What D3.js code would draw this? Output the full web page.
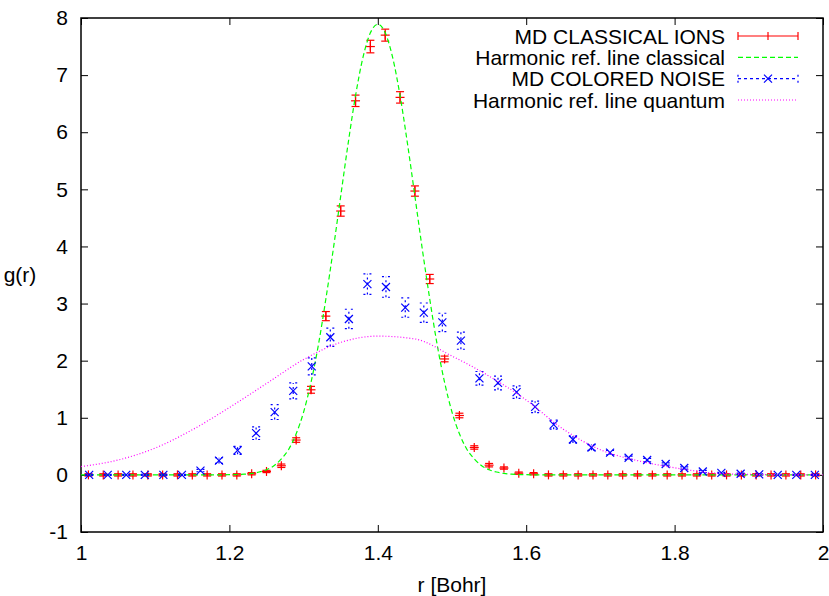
<!DOCTYPE html>
<html lang="en">
<head>
<meta charset="utf-8">
<title>g(r) classical vs colored noise</title>
<script src="https://cdn.jsdelivr.net/npm/d3@7"></script>
<style>
  body { margin: 0; background: #fff; }
  text { font-family: "Liberation Sans", Arial, Helvetica, sans-serif; }
</style>
</head>
<body>
<script>
// ---- data ----
// MD classical ions (red, with error bars)
var classicalR = [1.01,1.03,1.05,1.07,1.09,1.11,1.13,1.15,1.17,1.19,1.21,1.23,1.25,1.27,1.29,1.31,1.33,1.35,1.37,1.39,
  1.41,1.43,1.45,1.47,1.49,1.51,1.53,1.55,1.57,1.59,1.61,1.63,1.65,1.67,1.69,1.71,1.73,1.75,1.77,1.79,
  1.81,1.83,1.85,1.87,1.89,1.91,1.93,1.95,1.97,1.99]
var classicalG = [0,0,0,0,0,0,0,0,0,0,0,0.02,0.06,0.16,0.61,1.49,2.78,4.62,6.55,7.50,
  7.70,6.61,4.97,3.43,2.03,1.04,0.48,0.17,0.12,0.03,0.02,0,0,0,0,0,0,0,0,0,
  0,0,0,0,0,0,0,0,0,0]
var classicalErr = [0.02,0.02,0.02,0.02,0.02,0.02,0.02,0.02,0.02,0.02,0.02,0.02,0.02,0.03,0.04,0.06,0.08,0.09,0.10,0.11,
  0.105,0.10,0.09,0.08,0.05,0.04,0.03,0.03,0.02,0.02,0.02,0.02,0.02,0.02,0.02,0.02,0.02,0.02,0.02,0.02,
  0.02,0.02,0.02,0.02,0.02,0.02,0.02,0.02,0.02,0.02]

// MD colored noise (blue, with error bars)
var noiseR = [1.011,1.036,1.061,1.086,1.111,1.136,1.161,1.186,1.211,1.236,1.261,1.286,1.311,1.336,1.361,1.386,1.411,1.437,1.462,1.487,
  1.512,1.537,1.562,1.587,1.612,1.637,1.663,1.688,1.713,1.738,1.763,1.788,1.813,1.838,1.863,1.889,1.914,1.939,1.964,1.989]
var noiseG = [0,0,0,0,0,0,0.075,0.25,0.43,0.73,1.10,1.47,1.90,2.41,2.73,3.34,3.29,2.93,2.84,2.67,
  2.35,1.69,1.61,1.45,1.19,0.88,0.62,0.48,0.39,0.30,0.26,0.19,0.12,0.06,0.035,0.02,0.01,0,0,0]
var noiseErr = [0.01,0.01,0.01,0.01,0.01,0.01,0.02,0.05,0.07,0.11,0.13,0.14,0.15,0.16,0.17,0.18,0.18,0.17,0.17,0.16,
  0.15,0.12,0.12,0.11,0.10,0.08,0.06,0.05,0.04,0.03,0.03,0.02,0.02,0.02,0.01,0.01,0.01,0.01,0.01,0.01]

// harmonic reference, classical (green dashed)
var refClassR = [1.00,1.10,1.15,1.18,1.20,1.22,1.23,1.24,1.25,1.26,1.27,1.28,1.29,1.30,1.31,1.32,1.33,1.34,1.35,1.36,1.37,1.38,1.39,1.40,
  1.41,1.42,1.43,1.44,1.45,1.46,1.47,1.48,1.49,1.50,1.51,1.52,1.53,1.54,1.55,1.56,1.57,1.58,1.60,1.62,1.65,1.70,1.80,2.00]
var refClassG = [0,0,0,0.001,0.003,0.012,0.025,0.05,0.09,0.16,0.28,0.45,0.72,1.10,1.62,2.28,3.08,3.95,4.88,5.80,6.64,7.31,7.74,7.89,
  7.74,7.31,6.64,5.80,4.88,3.95,3.08,2.28,1.62,1.10,0.72,0.45,0.28,0.16,0.09,0.05,0.025,0.012,0.003,0.001,0,0,0,0]

// harmonic reference, quantum (magenta dotted)
var refQuantR = [1.00,1.05,1.10,1.15,1.20,1.25,1.30,1.35,1.40,1.45,1.50,1.55,1.60,1.65,1.70,1.75,1.80,1.85,1.90,1.95,2.00]
var refQuantG = [0.145,0.26,0.47,0.79,1.18,1.60,2.02,2.32,2.43,2.38,2.08,1.73,1.31,0.80,0.44,0.25,0.125,0.035,0.008,0.002,0]

var xTicks = [1,1.2,1.4,1.6,1.8,2]
var yTicks = [-1,0,1,2,3,4,5,6,7,8]
var legendNames = ['MD CLASSICAL IONS','Harmonic ref. line classical','MD COLORED NOISE','Harmonic ref. line quantum']

// ---- layout ----
var W = 829, H = 596
var pL = 81, pR = 823, pT = 18, pB = 532
var FS = 21

var svg = d3.select('body').append('svg').attr('width', W).attr('height', H)

var x = d3.scaleLinear().domain([1, 2]).range([pL, pR])
var y = d3.scaleLinear().domain([-1, 8]).range([pB, pT])

var RED = '#ff0000', GREEN = '#00ff00', BLUE = '#0000ff', MAGENTA = '#ff00ff'

// ticks (inward, mirrored) + labels, plain hyphen for negatives like gnuplot
var axisB = d3.axisBottom(x).tickValues(xTicks).tickSizeInner(-7).tickSizeOuter(0).tickFormat(function(d) { return String(d) })
var axisT = d3.axisTop(x).tickValues(xTicks).tickSizeInner(-7).tickSizeOuter(0).tickFormat('')
var axisL = d3.axisLeft(y).tickValues(yTicks).tickSizeInner(-7).tickSizeOuter(0).tickFormat(function(d) { return String(d) })
var axisR = d3.axisRight(y).tickValues(yTicks).tickSizeInner(-7).tickSizeOuter(0).tickFormat('')

function styleAxis(g) {
  g.select('.domain').remove()
  g.selectAll('.tick line').attr('stroke', '#000').attr('stroke-width', 1)
  g.selectAll('.tick text').attr('fill', '#000').attr('font-size', FS)
    .style('font-family', '"Liberation Sans", Arial, sans-serif')
}
svg.append('g').attr('transform', 'translate(0,' + pB + ')').call(axisB).call(styleAxis)
  .selectAll('.tick text').attr('y', 13).attr('dy', '0.71em')
svg.append('g').attr('transform', 'translate(0,' + pT + ')').call(axisT).call(styleAxis)
svg.append('g').attr('transform', 'translate(' + pL + ',0)').call(axisL).call(styleAxis)
  .selectAll('.tick text').attr('x', -13)
svg.append('g').attr('transform', 'translate(' + pR + ',0)').call(axisR).call(styleAxis)

// frame
svg.append('rect')
  .attr('x', pL).attr('y', pT)
  .attr('width', pR - pL).attr('height', pB - pT)
  .attr('fill', 'none').attr('stroke', '#000').attr('stroke-width', 1.5)

// axis titles
svg.append('text').attr('x', 20).attr('y', 282).attr('text-anchor', 'middle')
  .attr('font-size', FS).text('g(r)')
svg.append('text').attr('x', (pL + pR) / 2).attr('y', 592).attr('text-anchor', 'middle')
  .attr('font-size', FS).text('r [Bohr]')

svg.append('clipPath').attr('id', 'clip').append('rect')
  .attr('x', pL).attr('y', pT).attr('width', pR - pL).attr('height', pB - pT)
var plot = svg.append('g').attr('clip-path', 'url(#clip)')

// ---- red: MD classical ions ----
var red = plot.append('g').attr('stroke', RED).attr('stroke-width', 1.2)
classicalR.forEach(function(r, i) {
  var cx = x(r), v = classicalG[i], e = classicalErr[i]
  var y0 = y(v - e), y1 = y(v + e)
  red.append('line').attr('x1', cx).attr('x2', cx).attr('y1', y0).attr('y2', y1)
  red.append('line').attr('x1', cx - 4).attr('x2', cx + 4).attr('y1', y0).attr('y2', y0)
  red.append('line').attr('x1', cx - 4).attr('x2', cx + 4).attr('y1', y1).attr('y2', y1)
  // + marker
  red.append('line').attr('x1', cx - 4.5).attr('x2', cx + 4.5).attr('y1', y(v)).attr('y2', y(v))
  red.append('line').attr('x1', cx).attr('x2', cx).attr('y1', y(v) - 4.5).attr('y2', y(v) + 4.5)
})

// ---- green: harmonic classical ----
var line = d3.line().x(function(d) { return x(d[0]) }).y(function(d) { return y(d[1]) }).curve(d3.curveMonotoneX)
plot.append('path')
  .datum(d3.zip(refClassR, refClassG))
  .attr('d', line)
  .attr('fill', 'none').attr('stroke', GREEN).attr('stroke-width', 1.2)
  .attr('stroke-dasharray', '5,3')

// ---- blue: MD colored noise ----
var blue = plot.append('g').attr('stroke', BLUE).attr('stroke-width', 1.2)
noiseR.forEach(function(r, i) {
  var cx = x(r), v = noiseG[i], e = noiseErr[i]
  var y0 = y(v - e), y1 = y(v + e)
  blue.append('line').attr('x1', cx).attr('x2', cx).attr('y1', y0).attr('y2', y1).attr('stroke-dasharray', '2,3')
  blue.append('line').attr('x1', cx - 4).attr('x2', cx + 4).attr('y1', y0).attr('y2', y0).attr('stroke-dasharray', '2,4')
  blue.append('line').attr('x1', cx - 4).attr('x2', cx + 4).attr('y1', y1).attr('y2', y1).attr('stroke-dasharray', '2,4')
  // x marker
  blue.append('line').attr('x1', cx - 4).attr('x2', cx + 4).attr('y1', y(v) - 4).attr('y2', y(v) + 4)
  blue.append('line').attr('x1', cx - 4).attr('x2', cx + 4).attr('y1', y(v) + 4).attr('y2', y(v) - 4)
})

// ---- magenta: harmonic quantum ----
plot.append('path')
  .datum(d3.zip(refQuantR, refQuantG))
  .attr('d', line)
  .attr('fill', 'none').attr('stroke', MAGENTA).attr('stroke-width', 1.2)
  .attr('stroke-dasharray', '1,2')

// ---- legend ----
var legend = svg.append('g')
var lx0 = 738, lx1 = 798, ltext = 725
var rowY = d3.scaleLinear().domain([0, 3]).range([36, 100])

legendNames.forEach(function(name, i) {
  legend.append('text').attr('x', ltext).attr('y', rowY(i)).attr('dy', '0.36em')
    .attr('text-anchor', 'end').attr('font-size', FS).text(name)
})

// red sample: solid line, end caps, + in the middle
var ly = rowY(0), lm = (lx0 + lx1) / 2
var lr = legend.append('g').attr('stroke', RED).attr('stroke-width', 1.2)
lr.append('line').attr('x1', lx0).attr('x2', lx1).attr('y1', ly).attr('y2', ly)
lr.append('line').attr('x1', lx0).attr('x2', lx0).attr('y1', ly - 4).attr('y2', ly + 4)
lr.append('line').attr('x1', lx1).attr('x2', lx1).attr('y1', ly - 4).attr('y2', ly + 4)
lr.append('line').attr('x1', lm).attr('x2', lm).attr('y1', ly - 4).attr('y2', ly + 4)

// green sample
ly = rowY(1)
legend.append('line').attr('x1', lx0).attr('x2', lx1).attr('y1', ly).attr('y2', ly)
  .attr('stroke', GREEN).attr('stroke-width', 1.2).attr('stroke-dasharray', '5,3')

// blue sample: dashed line, dashed caps, x in the middle
ly = rowY(2)
var lb = legend.append('g').attr('stroke', BLUE).attr('stroke-width', 1.2)
lb.append('line').attr('x1', lx0).attr('x2', lx1).attr('y1', ly).attr('y2', ly).attr('stroke-dasharray', '3,3')
lb.append('line').attr('x1', lx0).attr('x2', lx0).attr('y1', ly - 4).attr('y2', ly + 4).attr('stroke-dasharray', '2,4')
lb.append('line').attr('x1', lx1).attr('x2', lx1).attr('y1', ly - 4).attr('y2', ly + 4).attr('stroke-dasharray', '2,4')
lb.append('line').attr('x1', lm - 4).attr('x2', lm + 4).attr('y1', ly - 4).attr('y2', ly + 4)
lb.append('line').attr('x1', lm - 4).attr('x2', lm + 4).attr('y1', ly + 4).attr('y2', ly - 4)

// magenta sample
ly = rowY(3)
legend.append('line').attr('x1', lx0).attr('x2', lx1).attr('y1', ly).attr('y2', ly)
  .attr('stroke', MAGENTA).attr('stroke-width', 1.2).attr('stroke-dasharray', '1,2')
</script>
</body>
</html>
